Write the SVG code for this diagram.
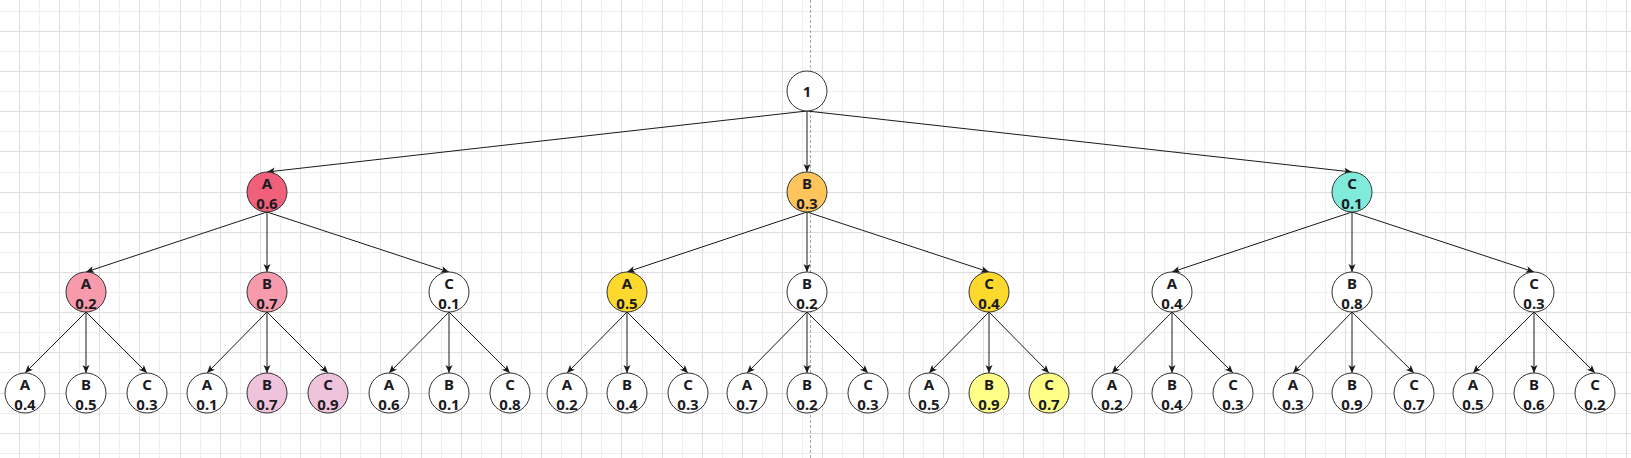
<svg xmlns="http://www.w3.org/2000/svg" width="1631" height="458" viewBox="0 0 1631 458">
<style>
.minor{stroke:#eeeeee;stroke-width:1;fill:none}
.major{stroke:#dedede;stroke-width:1;fill:none}
.guide{stroke:#a8a8a8;stroke-width:1;stroke-dasharray:3 2;fill:none}
.edges path{stroke:#1a1a1a;stroke-width:1;fill:none;marker-end:url(#arr)}
.n circle{stroke:#333;stroke-width:1;fill:#fff}
.n text{font-family:"Noto Sans","Open Sans","DejaVu Sans",sans-serif;font-weight:bold;font-size:15px;fill:#1a1a22;text-anchor:middle}
.red circle{fill:#f0607a}
.pink circle{fill:#f79bac}
.lpink circle{fill:#f0c3dc}
.orange circle{fill:#ffc45c}
.gold circle{fill:#fdd92e}
.lyellow circle{fill:#ffff88}
.teal circle{fill:#80eadb}
</style>
<defs>
<marker id="arr" markerUnits="userSpaceOnUse" markerWidth="10" markerHeight="10" viewBox="0 0 10 10" refX="8" refY="3.5" orient="auto">
<path d="M0,0 L8,3.5 L0,7 L2,3.5 z" fill="#1a1a1a"/>
</marker>
</defs>
<rect width="1631" height="458" fill="#fff"/>
<g id="grid">
<path class="minor" d="M39.5 0V458M79.5 0V458M119.5 0V458M159.5 0V458M200.5 0V458M240.5 0V458M280.5 0V458M320.5 0V458M360.5 0V458M401.5 0V458M441.5 0V458M481.5 0V458M521.5 0V458M561.5 0V458M601.5 0V458M642.5 0V458M682.5 0V458M722.5 0V458M762.5 0V458M802.5 0V458M842.5 0V458M883.5 0V458M923.5 0V458M963.5 0V458M1003.5 0V458M1043.5 0V458M1084.5 0V458M1124.5 0V458M1164.5 0V458M1204.5 0V458M1244.5 0V458M1284.5 0V458M1325.5 0V458M1365.5 0V458M1405.5 0V458M1445.5 0V458M1485.5 0V458M1526.5 0V458M1566.5 0V458M1606.5 0V458M0 11.5H1631M0 51.5H1631M0 91.5H1631M0 131.5H1631M0 172.5H1631M0 212.5H1631M0 252.5H1631M0 292.5H1631M0 332.5H1631M0 372.5H1631M0 413.5H1631M0 453.5H1631"/>
<path class="major" d="M19.5 0V458M59.5 0V458M99.5 0V458M139.5 0V458M180.5 0V458M220.5 0V458M260.5 0V458M300.5 0V458M340.5 0V458M380.5 0V458M421.5 0V458M461.5 0V458M501.5 0V458M541.5 0V458M581.5 0V458M621.5 0V458M662.5 0V458M702.5 0V458M742.5 0V458M782.5 0V458M822.5 0V458M863.5 0V458M903.5 0V458M943.5 0V458M983.5 0V458M1023.5 0V458M1063.5 0V458M1104.5 0V458M1144.5 0V458M1184.5 0V458M1224.5 0V458M1264.5 0V458M1305.5 0V458M1345.5 0V458M1385.5 0V458M1425.5 0V458M1465.5 0V458M1505.5 0V458M1546.5 0V458M1586.5 0V458M1626.5 0V458M0 31.5H1631M0 71.5H1631M0 111.5H1631M0 151.5H1631M0 192.5H1631M0 232.5H1631M0 272.5H1631M0 312.5H1631M0 352.5H1631M0 393.5H1631M0 433.5H1631"/>
<path class="guide" d="M810.5 0V458"/>
</g>
<g id="connectors" class="edges">
<path d="M807 111L267 172"/>
<path d="M807 111L807 172"/>
<path d="M807 111L1352 172"/>
<path d="M267 212L86 272"/>
<path d="M267 212L267 272"/>
<path d="M267 212L449 272"/>
<path d="M807 212L627 272"/>
<path d="M807 212L807 272"/>
<path d="M807 212L989 272"/>
<path d="M1352 212L1172 272"/>
<path d="M1352 212L1352 272"/>
<path d="M1352 212L1534 272"/>
<path d="M86 312L25 373"/><path d="M86 312L86 373"/><path d="M86 312L147 373"/>
<path d="M267 312L207 373"/><path d="M267 312L267 373"/><path d="M267 312L328 373"/>
<path d="M449 312L389 373"/><path d="M449 312L449 373"/><path d="M449 312L510 373"/>
<path d="M627 312L567 373"/><path d="M627 312L627 373"/><path d="M627 312L688 373"/>
<path d="M807 312L747 373"/><path d="M807 312L807 373"/><path d="M807 312L868 373"/>
<path d="M989 312L929 373"/><path d="M989 312L989 373"/><path d="M989 312L1049 373"/>
<path d="M1172 312L1112 373"/><path d="M1172 312L1172 373"/><path d="M1172 312L1233 373"/>
<path d="M1352 312L1293 373"/><path d="M1352 312L1352 373"/><path d="M1352 312L1414 373"/>
<path d="M1534 312L1473 373"/><path d="M1534 312L1534 373"/><path d="M1534 312L1595 373"/>
</g>
<g id="root" class="n"><circle cx="807" cy="91" r="20"/><text x="807" y="96.5">1</text></g>
<g id="L2-A" class="n red"><circle cx="267" cy="192" r="20"/><text x="267" y="188.5">A</text><text x="267" y="208.5">0.6</text></g>
<g id="L2-B" class="n orange"><circle cx="807" cy="192" r="20"/><text x="807" y="188.5">B</text><text x="807" y="208.5">0.3</text></g>
<g id="L2-C" class="n teal"><circle cx="1352" cy="192" r="20"/><text x="1352" y="188.5">C</text><text x="1352" y="208.5">0.1</text></g>
<g id="L3-AA" class="n pink"><circle cx="86" cy="292" r="20"/><text x="86" y="288.5">A</text><text x="86" y="308.5">0.2</text></g>
<g id="L3-AB" class="n pink"><circle cx="267" cy="292" r="20"/><text x="267" y="288.5">B</text><text x="267" y="308.5">0.7</text></g>
<g id="L3-AC" class="n"><circle cx="449" cy="292" r="20"/><text x="449" y="288.5">C</text><text x="449" y="308.5">0.1</text></g>
<g id="L3-BA" class="n gold"><circle cx="627" cy="292" r="20"/><text x="627" y="288.5">A</text><text x="627" y="308.5">0.5</text></g>
<g id="L3-BB" class="n"><circle cx="807" cy="292" r="20"/><text x="807" y="288.5">B</text><text x="807" y="308.5">0.2</text></g>
<g id="L3-BC" class="n gold"><circle cx="989" cy="292" r="20"/><text x="989" y="288.5">C</text><text x="989" y="308.5">0.4</text></g>
<g id="L3-CA" class="n"><circle cx="1172" cy="292" r="20"/><text x="1172" y="288.5">A</text><text x="1172" y="308.5">0.4</text></g>
<g id="L3-CB" class="n"><circle cx="1352" cy="292" r="20"/><text x="1352" y="288.5">B</text><text x="1352" y="308.5">0.8</text></g>
<g id="L3-CC" class="n"><circle cx="1534" cy="292" r="20"/><text x="1534" y="288.5">C</text><text x="1534" y="308.5">0.3</text></g>
<g id="L4-AAA" class="n"><circle cx="25" cy="393" r="20"/><text x="25" y="389.5">A</text><text x="25" y="409.5">0.4</text></g>
<g id="L4-AAB" class="n"><circle cx="86" cy="393" r="20"/><text x="86" y="389.5">B</text><text x="86" y="409.5">0.5</text></g>
<g id="L4-AAC" class="n"><circle cx="147" cy="393" r="20"/><text x="147" y="389.5">C</text><text x="147" y="409.5">0.3</text></g>
<g id="L4-ABA" class="n"><circle cx="207" cy="393" r="20"/><text x="207" y="389.5">A</text><text x="207" y="409.5">0.1</text></g>
<g id="L4-ABB" class="n lpink"><circle cx="267" cy="393" r="20"/><text x="267" y="389.5">B</text><text x="267" y="409.5">0.7</text></g>
<g id="L4-ABC" class="n lpink"><circle cx="328" cy="393" r="20"/><text x="328" y="389.5">C</text><text x="328" y="409.5">0.9</text></g>
<g id="L4-ACA" class="n"><circle cx="389" cy="393" r="20"/><text x="389" y="389.5">A</text><text x="389" y="409.5">0.6</text></g>
<g id="L4-ACB" class="n"><circle cx="449" cy="393" r="20"/><text x="449" y="389.5">B</text><text x="449" y="409.5">0.1</text></g>
<g id="L4-ACC" class="n"><circle cx="510" cy="393" r="20"/><text x="510" y="389.5">C</text><text x="510" y="409.5">0.8</text></g>
<g id="L4-BAA" class="n"><circle cx="567" cy="393" r="20"/><text x="567" y="389.5">A</text><text x="567" y="409.5">0.2</text></g>
<g id="L4-BAB" class="n"><circle cx="627" cy="393" r="20"/><text x="627" y="389.5">B</text><text x="627" y="409.5">0.4</text></g>
<g id="L4-BAC" class="n"><circle cx="688" cy="393" r="20"/><text x="688" y="389.5">C</text><text x="688" y="409.5">0.3</text></g>
<g id="L4-BBA" class="n"><circle cx="747" cy="393" r="20"/><text x="747" y="389.5">A</text><text x="747" y="409.5">0.7</text></g>
<g id="L4-BBB" class="n"><circle cx="807" cy="393" r="20"/><text x="807" y="389.5">B</text><text x="807" y="409.5">0.2</text></g>
<g id="L4-BBC" class="n"><circle cx="868" cy="393" r="20"/><text x="868" y="389.5">C</text><text x="868" y="409.5">0.3</text></g>
<g id="L4-BCA" class="n"><circle cx="929" cy="393" r="20"/><text x="929" y="389.5">A</text><text x="929" y="409.5">0.5</text></g>
<g id="L4-BCB" class="n lyellow"><circle cx="989" cy="393" r="20"/><text x="989" y="389.5">B</text><text x="989" y="409.5">0.9</text></g>
<g id="L4-BCC" class="n lyellow"><circle cx="1049" cy="393" r="20"/><text x="1049" y="389.5">C</text><text x="1049" y="409.5">0.7</text></g>
<g id="L4-CAA" class="n"><circle cx="1112" cy="393" r="20"/><text x="1112" y="389.5">A</text><text x="1112" y="409.5">0.2</text></g>
<g id="L4-CAB" class="n"><circle cx="1172" cy="393" r="20"/><text x="1172" y="389.5">B</text><text x="1172" y="409.5">0.4</text></g>
<g id="L4-CAC" class="n"><circle cx="1233" cy="393" r="20"/><text x="1233" y="389.5">C</text><text x="1233" y="409.5">0.3</text></g>
<g id="L4-CBA" class="n"><circle cx="1293" cy="393" r="20"/><text x="1293" y="389.5">A</text><text x="1293" y="409.5">0.3</text></g>
<g id="L4-CBB" class="n"><circle cx="1352" cy="393" r="20"/><text x="1352" y="389.5">B</text><text x="1352" y="409.5">0.9</text></g>
<g id="L4-CBC" class="n"><circle cx="1414" cy="393" r="20"/><text x="1414" y="389.5">C</text><text x="1414" y="409.5">0.7</text></g>
<g id="L4-CCA" class="n"><circle cx="1473" cy="393" r="20"/><text x="1473" y="389.5">A</text><text x="1473" y="409.5">0.5</text></g>
<g id="L4-CCB" class="n"><circle cx="1534" cy="393" r="20"/><text x="1534" y="389.5">B</text><text x="1534" y="409.5">0.6</text></g>
<g id="L4-CCC" class="n"><circle cx="1595" cy="393" r="20"/><text x="1595" y="389.5">C</text><text x="1595" y="409.5">0.2</text></g>
</svg>
